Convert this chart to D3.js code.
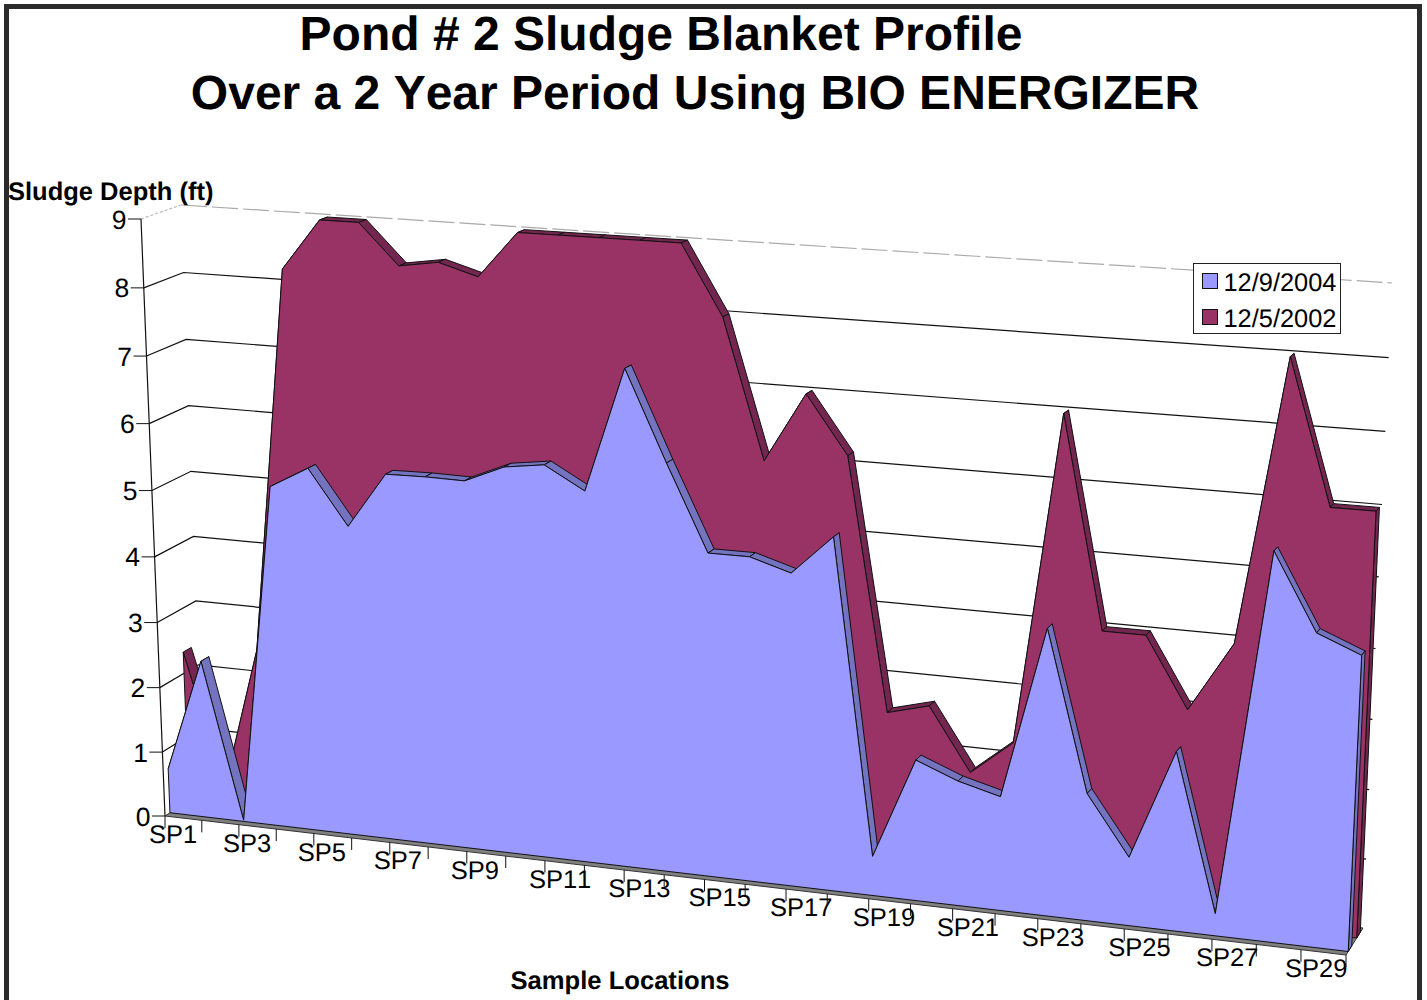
<html>

<head>
    <style>
        body { margin: 0; background: white; }
        text { font-family: "Liberation Sans", Arial, sans-serif; fill: black; text-rendering: geometricPrecision; font-kerning: none; }
    </style>
</head>

<body>
    <svg id="container" width="1427" height="1000"></svg>
</body>
<script src="https://cdn.jsdelivr.net/npm/d3@7"></script>
<script>
    // values
    let categories = d3.range(1, 31).map(i => "SP" + i)
    let series2004 = [0.69, 2.42, 0.02, 5.17, 5.49, 4.68, 5.5, 5.51, 5.5, 5.75, 5.83, 5.5, 7.3, 6, 4.76,
        4.76, 4.58, 5.15, 0.58, 2.06, 1.82, 1.66, 4.13, 1.84, 0.99, 2.57, 0.32, 5.48, 4.41, 4.16]
    let series2002 = [2.33, 0.27, 2.48, 8.25, 9, 9, 8.41, 8.5, 8.33, 9, 9, 9, 9, 9, 8,
        6, 7, 6.17, 2.52, 2.68, 1.77, 2.27, 7, 4, 4, 3, 4, 8, 6, 6]
    let valueTicks = d3.range(0, 10)
    let seriesNames = ["12/9/2004", "12/5/2002"]

    let svg = d3.select("#container")

    // the box of the 3D chart: corners of its front and back planes on screen
    let frontPlane = [[165, 816], [1346, 955], [1376, 296], [141, 219]]
    let backPlane = [[203, 791], [1363, 928], [1392, 283], [181, 205]]

    // depth of each area inside the box (0 front, 1 back wall)
    let frontDepth = [0.13, 0.34]
    let backDepth = [0.63, 0.84]

    let xScale = d3.scaleLinear().domain([0, categories.length - 1]).range([0, 1])
    let yScale = d3.scaleLinear().domain([0, 9]).range([0, 1])

    // unit square to quad, the perspective of one plane
    function homography(q) {
        let [x0, y0] = q[0], [x1, y1] = q[1], [x2, y2] = q[2], [x3, y3] = q[3]
        let dx1 = x1 - x2, dx2 = x3 - x2, dx3 = x0 - x1 + x2 - x3
        let dy1 = y1 - y2, dy2 = y3 - y2, dy3 = y0 - y1 + y2 - y3
        let den = dx1 * dy2 - dx2 * dy1
        let g = (dx3 * dy2 - dx2 * dy3) / den
        let h = (dx1 * dy3 - dx3 * dy1) / den
        return (u, v) => {
            let w = g * u + h * v + 1
            return [((x1 - x0 + g * x1) * u + (x3 - x0 + h * x3) * v + x0) / w,
                ((y1 - y0 + g * y1) * u + (y3 - y0 + h * y3) * v + y0) / w]
        }
    }
    let frontH = homography(frontPlane)
    let backH = homography(backPlane)

    // category index, value and depth to a screen point
    function project(i, value, depth) {
        let a = frontH(xScale(i), yScale(value))
        let b = backH(xScale(i), yScale(value))
        return [a[0] + (b[0] - a[0]) * depth, a[1] + (b[1] - a[1]) * depth]
    }

    let line = d3.line()
    let poly = pts => line(pts) + "Z"
    let lastIndex = categories.length - 1

    // floor
    svg.append("path")
        .attr("d", poly([project(0, 0, 0), project(lastIndex, 0, 0), project(lastIndex, 0, 1), project(0, 0, 1)]))
        .attr("fill", "#808080")
        .attr("stroke", "#333")
        .attr("stroke-width", 1)

    // gridlines, along the side wall and then the back wall
    let grid = svg.append("g").attr("fill", "none")
    grid.selectAll(".gridline")
        .data(valueTicks.slice(1, -1))
        .enter()
        .append("path")
        .attr("class", "gridline")
        .attr("d", d => line([project(0, d, 0), project(0, d, 1), project(lastIndex, d, 1)]))
        .attr("stroke", "#111")
        .attr("stroke-width", 1.2)

    // the top line is the light one: dotted on the side wall, dashed on the back
    let topValue = valueTicks[valueTicks.length - 1]
    grid.append("path")
        .attr("d", line([project(0, topValue, 0), project(0, topValue, 1)]))
        .attr("stroke", "#bbb")
        .attr("stroke-width", 1.2)
        .attr("stroke-dasharray", "3,2")
    grid.append("path")
        .attr("d", line([project(0, topValue, 1), project(lastIndex, topValue, 1)]))
        .attr("stroke", "#aaa")
        .attr("stroke-width", 1.2)
        .attr("stroke-dasharray", "26,5")

    // one area: top faces and end face first, then the front face over them
    function drawArea(values, depth, fill, shade) {
        let g = svg.append("g").attr("stroke", "#111").attr("stroke-width", 1).attr("stroke-linejoin", "round")

        g.selectAll(".top")
            .data(d3.pairs(values.map((v, i) => ({ v, i }))))
            .enter()
            .append("path")
            .attr("class", "top")
            .attr("fill", shade)
            .attr("d", ([a, b]) => poly([project(a.i, a.v, depth[0]), project(b.i, b.v, depth[0]),
                project(b.i, b.v, depth[1]), project(a.i, a.v, depth[1])]))

        let end = values[lastIndex]
        g.append("path")
            .attr("fill", shade)
            .attr("d", poly([project(lastIndex, 0, depth[0]), project(lastIndex, end, depth[0]),
                project(lastIndex, end, depth[1]), project(lastIndex, 0, depth[1])]))

        let outline = values.map((v, i) => project(i, v, depth[0]))
        outline.push(project(lastIndex, 0, depth[0]), project(0, 0, depth[0]))
        g.append("path")
            .attr("fill", fill)
            .attr("d", poly(outline))
    }

    drawArea(series2002, backDepth, "#993366", "#732650")
    drawArea(series2004, frontDepth, "#9999FF", "#7373BF")

    // value axis
    svg.append("path")
        .attr("d", line([project(0, 0, 0), project(0, 9, 0)]))
        .attr("stroke", "#111")
        .attr("stroke-width", 1.2)
        .attr("fill", "none")

    let yTick = svg.selectAll(".ytick")
        .data(valueTicks)
        .enter()
        .append("g")
        .attr("class", "ytick")
        .attr("transform", d => "translate(" + project(0, d, 0) + ")")
    yTick.append("line")
        .attr("x1", -13)
        .attr("x2", 0)
        .attr("stroke", "#111")
    yTick.append("text")
        .text(d => d)
        .attr("x", -14.5)
        .attr("y", 9.5)
        .attr("text-anchor", "end")
        .style("font-size", "26.5px")

    // category axis, a tick for each location and a label for every other one
    let xTick = svg.selectAll(".xtick")
        .data(categories.map((d, i) => ({ name: d, i })))
        .enter()
        .append("g")
        .attr("class", "xtick")
        .attr("transform", d => "translate(" + project(d.i, 0, 0) + ")")
    xTick.append("line")
        .attr("y2", 12)
        .attr("stroke", "#111")
    xTick.filter(d => d.i % 2 == 0)
        .append("text")
        .text(d => d.name)
        .attr("x", -16)
        .attr("y", 27)
        .style("font-size", "25.5px")

    // titles
    let title = svg.append("g")
        .attr("text-anchor", "middle")
        .style("font-weight", "bold")
        .style("font-size", "48px")
    title.append("text").text("Pond # 2 Sludge Blanket Profile").attr("x", 661).attr("y", 50)
    title.append("text").text("Over a 2 Year Period Using BIO ENERGIZER").attr("x", 695).attr("y", 109)

    svg.append("text")
        .text("Sludge Depth (ft)")
        .attr("x", 8)
        .attr("y", 200)
        .style("font-weight", "bold")
        .style("font-size", "25.5px")
    svg.append("text")
        .text("Sample Locations")
        .attr("x", 620)
        .attr("y", 989)
        .attr("text-anchor", "middle")
        .style("font-weight", "bold")
        .style("font-size", "25.6px")

    // legend
    let legend = svg.append("g").attr("transform", "translate(1193.5,263.5)")
    legend.append("rect")
        .attr("width", 147)
        .attr("height", 70)
        .attr("fill", "white")
        .attr("stroke", "#222")
    let legendG = legend.selectAll(".legend")
        .data(seriesNames)
        .enter()
        .append("g")
        .attr("class", "legend")
        .attr("transform", (d, i) => "translate(9," + (10 + i * 36) + ")")
    legendG.append("rect")
        .attr("width", 15)
        .attr("height", 15)
        .attr("fill", (d, i) => i == 0 ? "#9999FF" : "#993366")
        .attr("stroke", "#111")
    legendG.append("text")
        .text(d => d)
        .attr("x", 21)
        .attr("y", 17)
        .style("font-size", "25.4px")

    // frame, the bottom side is cut off by the picture
    svg.append("path")
        .attr("d", "M6.5,1000V6.5H1419.5V1000")
        .attr("fill", "none")
        .attr("stroke", "#2b2b2b")
        .attr("stroke-width", 5)
</script>

</html>
